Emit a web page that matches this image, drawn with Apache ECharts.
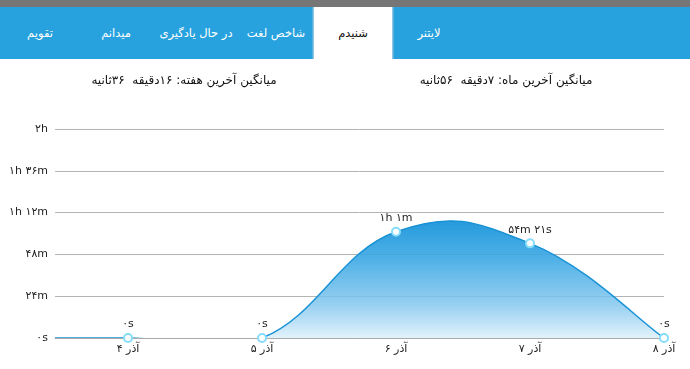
<!DOCTYPE html>
<html lang="fa">
<head>
<meta charset="utf-8">
<title>شنیدم</title>
<script src="https://cdn.jsdelivr.net/npm/echarts@6/dist/echarts.min.js"></script>
<style>
  html, body { margin: 0; padding: 0; background: #fff; }
  body { width: 690px; height: 369px; position: relative; overflow: hidden;
         font-family: "DejaVu Sans", "Noto Sans", sans-serif; }
  .status { position: absolute; left: 0; top: 0; width: 690px; height: 7px; background: #767676; }
  .tabs { position: absolute; left: 0; top: 7px; width: 690px; height: 52px; background: #28a2de; }
  .tab { position: absolute; top: 0; height: 52px; line-height: 52px; color: #fff;
         font-size: 11.5px; text-align: center; white-space: nowrap; transform: translateX(-50%); }
  .tab.active { background: #fff; color: #111; width: 79px; border-left: 1px solid #1d8fcb;
                border-right: 1px solid #1d8fcb; }
  .avg { position: absolute; top: 73px; font-size: 12px; color: #111; transform: translateX(-50%);
         white-space: nowrap; direction: rtl; }
  #chart { position: absolute; left: 0; top: 0; width: 690px; height: 369px; }
</style>
</head>
<body>
<div id="chart"></div>
<div class="status"></div>
<div class="tabs" id="tabs"></div>
<div class="avg" style="left:506px">میانگین آخرین ماه: ۷دقیقه&nbsp;&nbsp;۵۶ثانیه</div>
<div class="avg" style="left:184px">میانگین آخرین هفته: ۱۶دقیقه&nbsp;&nbsp;۳۶ثانیه</div>
<script>
// تب‌ها (از راست به چپ)
const tabNames = ['لایتنر', 'شنیدم', 'شاخص لغت', 'در حال یادگیری', 'میدانم', 'تقویم'];
const tabCenters = [429, 353, 276, 196, 116, 40];
const activeTab = 1;

// داده‌های نمودار
const dayPos = [3, 4, 5, 6, 7, 8];
const dayNames = ['۳ آذر', '۴ آذر', '۵ آذر', '۶ آذر', '۷ آذر', '۸ آذر'];
const minutes = [0, 0, 0, 61, 54.35, 0];
const pointLabels = ['', '۰s', '۰s', '۱h ۱m', '۵۴m ۲۱s', '۰s'];
const yTicks = [0, 24, 48, 72, 96, 120];
const yTickLabels = ['۰s', '۲۴m', '۴۸m', '۱h ۱۲m', '۱h ۳۶m', '۲h'];

const tabsEl = document.getElementById('tabs');
tabNames.forEach((name, i) => {
  const d = document.createElement('div');
  d.className = 'tab' + (i === activeTab ? ' active' : '');
  d.style.left = tabCenters[i] + 'px';
  d.textContent = name;
  tabsEl.appendChild(d);
});

// منحنی بزیه مکعبی (مثل حالت cubic در نمودارهای اندروید)
const intensity = 0.21;
function curvePath(api) {
  const pts = dayPos.map((x, i) => api.coord([x, minutes[i]]));
  let d = 'M' + pts[0][0] + ' ' + pts[0][1];
  for (let j = 1; j < pts.length; j++) {
    const pp = pts[Math.max(j - 2, 0)];
    const p = pts[j - 1];
    const c = pts[j];
    const n = pts[Math.min(j + 1, pts.length - 1)];
    const c1x = p[0] + (c[0] - pp[0]) * intensity;
    const c1y = p[1] + (c[1] - pp[1]) * intensity;
    const c2x = c[0] - (n[0] - p[0]) * intensity;
    const c2y = c[1] - (n[1] - p[1]) * intensity;
    d += ' C' + c1x + ' ' + c1y + ' ' + c2x + ' ' + c2y + ' ' + c[0] + ' ' + c[1];
  }
  return { d, pts };
}

const chart = echarts.init(document.getElementById('chart'));
chart.setOption({
  animation: false,
  textStyle: { fontFamily: '"DejaVu Sans", sans-serif' },
  grid: { left: 55, right: 26, top: 129, bottom: 31 },
  xAxis: {
    type: 'value',
    min: 3.455,
    max: 8,
    splitLine: { show: false },
    axisLine: { lineStyle: { color: '#aaaaaa', width: 1 } },
    axisTick: { show: false },
    axisLabel: {
      customValues: dayPos.slice(1),
      color: '#222',
      fontSize: 11,
      margin: 6,
      formatter: v => dayNames[dayPos.indexOf(Math.round(v))] || ''
    }
  },
  yAxis: {
    type: 'value',
    min: 0,
    max: 120,
    interval: 24,
    axisLine: { show: false },
    axisTick: { show: false },
    splitLine: { lineStyle: { color: '#b4b4b4', width: 1 } },
    axisLabel: {
      color: '#222',
      fontSize: 11,
      margin: 7,
      formatter: v => yTickLabels[yTicks.indexOf(v)]
    }
  },
  series: [{
    type: 'custom',
    clip: true,
    z: 1,
    data: [[dayPos[0], 0]],
    renderItem: (params, api) => {
      const { d, pts } = curvePath(api);
      const base = api.coord([dayPos[0], 0])[1];
      const last = pts[pts.length - 1];
      const areaD = d + ' L' + last[0] + ' ' + base + ' L' + pts[0][0] + ' ' + base + ' Z';
      return {
        type: 'group',
        children: [{
          type: 'path',
          shape: { pathData: areaD },
          style: {
            fill: new echarts.graphic.LinearGradient(0, 0, 0, 1, [
              { offset: 0, color: 'rgba(28,150,218,0.96)' },
              { offset: 0.3, color: 'rgba(60,168,228,0.9)' },
              { offset: 0.65, color: 'rgba(130,198,238,0.85)' },
              { offset: 1, color: 'rgba(250,253,255,0.9)' }
            ]),
            stroke: null
          }
        }, {
          type: 'path',
          shape: { pathData: d },
          style: { fill: null, stroke: '#1a93d6', lineWidth: 1.5 }
        }]
      };
    }
  }, {
    type: 'scatter',
    z: 3,
    data: dayPos.map((x, i) => ({
      value: [x, minutes[i]],
      label: { formatter: pointLabels[i] }
    })),
    symbol: 'circle',
    symbolSize: 8,
    itemStyle: { color: '#ffffff', borderColor: '#86dcfb', borderWidth: 2, opacity: 1 },
    label: { show: true, position: 'top', distance: 3, color: '#222', fontSize: 11 }
  }]
});
</script>
</body>
</html>
